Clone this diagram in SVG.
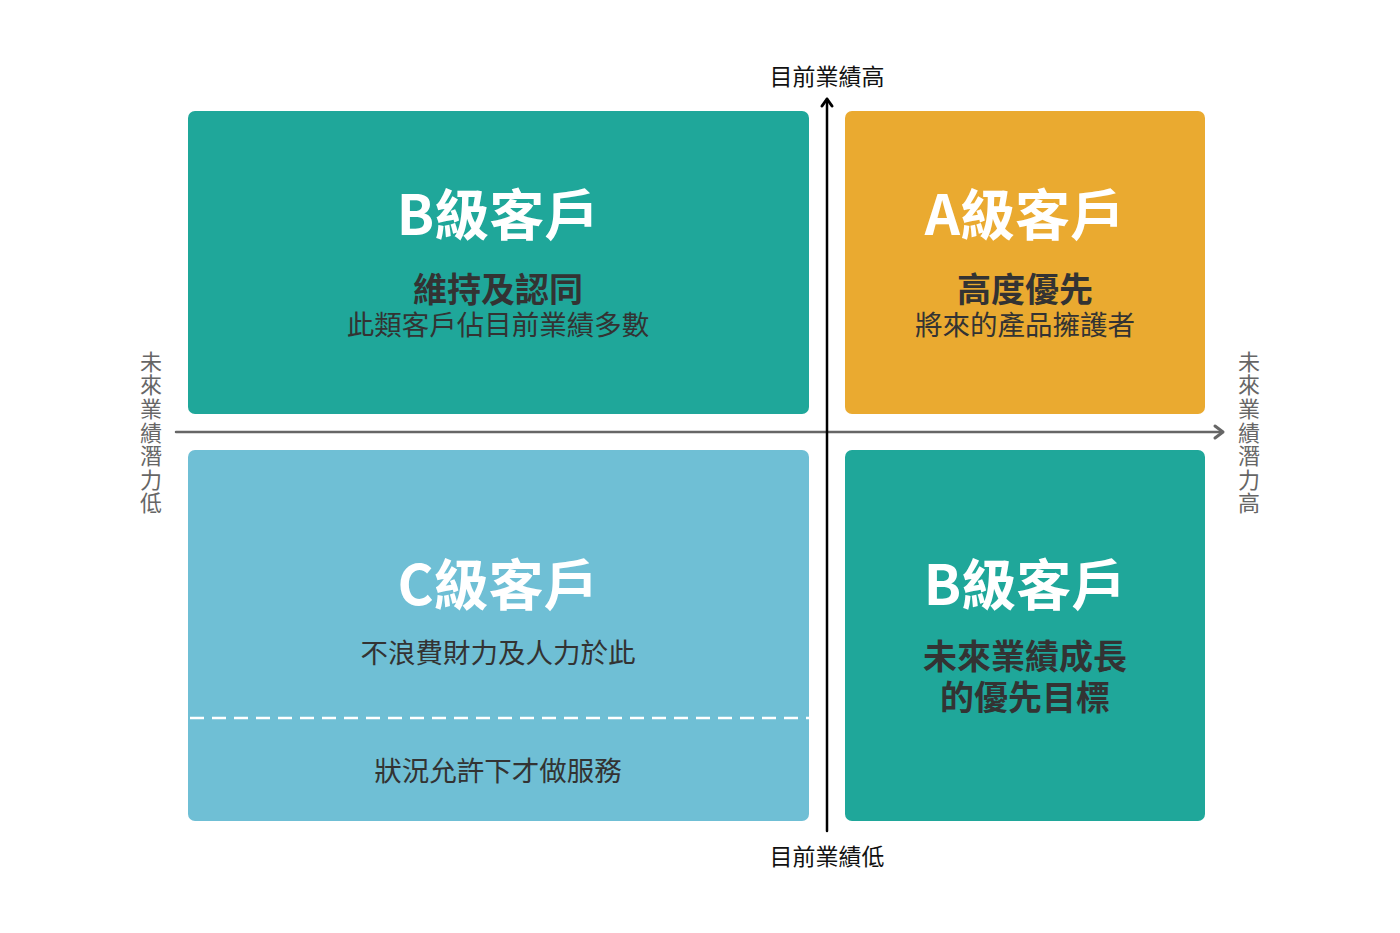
<svg xmlns="http://www.w3.org/2000/svg" width="1400" height="933" viewBox="0 0 1400 933">
<defs>
<style>
.teal{fill:#1fa79a}
.orange{fill:#eaaa30}
.blue{fill:#6fbfd5}
text{font-family:"Noto Sans CJK TC","Noto Sans",sans-serif;text-anchor:middle}
.title{font-size:55px;font-weight:700;fill:#ffffff}
.sub{font-size:34px;font-weight:700;fill:#333333}
.desc{font-size:27.5px;font-weight:400;fill:#333333}
.axis{font-size:23px;fill:#111111}
.vaxis{font-size:22px;fill:#666666;writing-mode:vertical-rl;letter-spacing:1.6px}
</style>
</defs>
<rect width="1400" height="933" fill="#ffffff"/>
<g id="box-b-top">
<rect class="teal" x="188" y="111" width="621" height="303" rx="7"/>
<text class="title" x="498" y="235">B級客戶</text>
<text class="sub" x="498" y="302">維持及認同</text>
<text class="desc" x="498" y="335">此類客戶佔目前業績多數</text>
</g>
<g id="box-a">
<rect class="orange" x="845" y="111" width="360" height="303" rx="7"/>
<text class="title" x="1025" y="235">A級客戶</text>
<text class="sub" x="1025" y="302">高度優先</text>
<text class="desc" x="1025" y="335">將來的產品擁護者</text>
</g>
<g id="box-c">
<rect class="blue" x="188" y="450" width="621" height="371" rx="7"/>
<text class="title" x="498" y="605">C級客戶</text>
<text class="desc" x="498" y="663">不浪費財力及人力於此</text>
<line x1="190" y1="718" x2="809" y2="718" stroke="#ffffff" stroke-width="2.5" stroke-dasharray="14 8"/>
<text class="desc" x="498" y="781">狀況允許下才做服務</text>
</g>
<g id="box-b-bottom">
<rect class="teal" x="845" y="450" width="360" height="371" rx="7"/>
<text class="title" x="1025" y="605">B級客戶</text>
<text class="sub" x="1025" y="669">未來業績成長</text>
<text class="sub" x="1025" y="710">的優先目標</text>
</g>
<g id="connectors" fill="none" stroke-linecap="round" stroke-linejoin="round">
<line x1="176" y1="432" x2="1222" y2="432" stroke="#666666" stroke-width="2.5"/>
<polyline points="1215,426 1223,432 1215,438" stroke="#666666" stroke-width="3"/>
<line x1="827" y1="831" x2="827" y2="99" stroke="#000000" stroke-width="2.5"/>
<polyline points="822,106 827,99 832,106" stroke="#000000" stroke-width="3"/>
</g>
<g id="labels">
<text class="axis" x="827" y="85">目前業績高</text>
<text class="axis" x="827" y="865">目前業績低</text>
<text class="vaxis" x="151" y="433">未來業績潛力低</text>
<text class="vaxis" x="1249" y="433">未來業績潛力高</text>
</g>
</svg>
